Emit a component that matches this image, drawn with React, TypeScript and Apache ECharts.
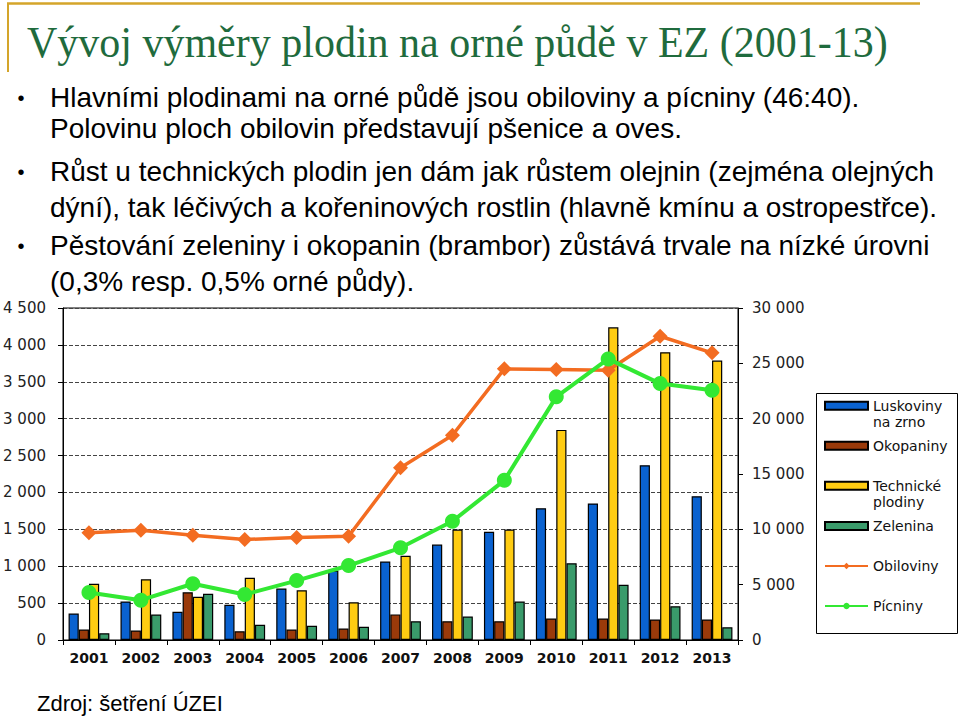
import React, { useEffect, useRef } from "react";
import * as echarts from "echarts";

const years = ["2001", "2002", "2003", "2004", "2005", "2006", "2007", "2008", "2009", "2010", "2011", "2012", "2013"];
const luskoviny = [359, 522, 382, 477, 698, 942, 1064, 1294, 1466, 1786, 1850, 2369, 1949];
const okopaniny = [142, 129, 648, 119, 142, 156, 347, 255, 255, 291, 291, 278, 278];
const technicke = [761, 824, 585, 843, 675, 512, 1141, 1497, 1497, 2848, 4238, 3900, 3787];
const zelenina = [92, 345, 626, 206, 192, 179, 255, 318, 522, 1041, 748, 458, 173];
const obiloviny = [9690, 9920, 9470, 9080, 9260, 9380, 15560, 18500, 24500, 24440, 24370, 27450, 25950];
const picniny = [4290, 3600, 5080, 4110, 5370, 6730, 8330, 10730, 14430, 21970, 25400, 23170, 22570];

const titleText = "Vývoj výměry plodin na orné půdě v EZ (2001-13)";
const bulletLines = [
  "Hlavními plodinami na orné půdě jsou obiloviny a pícniny (46:40).",
  "Polovinu ploch obilovin představují pšenice a oves.",
  "Růst u technických plodin jen dám jak růstem olejnin (zejména olejných",
  "dýní), tak léčivých a kořeninových rostlin (hlavně kmínu a ostropestřce).",
  "Pěstování zeleniny i okopanin (brambor) zůstává trvale na nízké úrovni",
  "(0,3% resp. 0,5% orné půdy).",
];
const sourceText = "Zdroj: šetření ÚZEI";

const seriesNames = ["Luskoviny na zrno", "Okopaniny", "Technické plodiny", "Zelenina", "Obiloviny", "Pícniny"];
const legendLabels = [" \nLuskoviny\nna zrno", "Okopaniny", " \nTechnické\nplodiny", "Zelenina", "Obiloviny", "Pícniny"];

const colors = {
  blue: "#0a62d0",
  brown: "#9a3a0a",
  yellow: "#ffcc12",
  green: "#3a9b6b",
  orange: "#f36c21",
  lime: "#33e833",
};

const fmt = (v: number) => String(v).replace(/\B(?=(\d{3})+(?!\d))/g, " ");

export default function App() {
  const ref = useRef<HTMLDivElement>(null);
  useEffect(() => {
    if (!ref.current) return;
    const chart = echarts.init(ref.current, undefined, { renderer: "svg" });

    const lineY = [97, 128, 171, 207, 245, 281];
    const bulletIdx = [0, 2, 4];
    const legendCenters = [405.7, 445.7, 485.7, 526, 566, 606];
    const twoLine = [true, false, true, false, false, false];
    const isBar = [true, true, true, true, false, false];

    const graphic: any[] = [
      { type: "line", shape: { x1: 7, y1: 3.5, x2: 920, y2: 3.5 }, style: { stroke: "#d4a52a", lineWidth: 2.5 } },
      { type: "line", shape: { x1: 8, y1: 3, x2: 8, y2: 72 }, style: { stroke: "#d4a52a", lineWidth: 2 } },
      {
        type: "text",
        x: 27,
        y: 42,
        scaleY: 1.07,
        style: { text: titleText, fontSize: 42, fontFamily: "Liberation Serif", fill: "#1f6b3d", align: "left", verticalAlign: "middle" },
      },
      {
        type: "text",
        x: 37,
        y: 703,
        style: { text: sourceText, fontSize: 22, fontFamily: "Liberation Sans", fill: "#000", align: "left", verticalAlign: "middle" },
      },
      {
        type: "rect",
        z: 0,
        shape: { x: 816.5, y: 393.5, width: 141, height: 240 },
        style: { fill: "#fff", stroke: "#000", lineWidth: 1 },
      },
    ];
    bulletLines.forEach((t, i) => {
      graphic.push({
        type: "text",
        x: 50,
        y: lineY[i],
        style: { text: t, fontSize: 28, fontFamily: "Liberation Sans", fill: "#000", align: "left", verticalAlign: "middle" },
      });
    });
    bulletIdx.forEach((i) => {
      graphic.push({
        type: "text",
        x: 21,
        y: lineY[i] + 1,
        style: { text: "•", fontSize: 20, fontFamily: "Liberation Sans", fill: "#000", align: "center", verticalAlign: "middle" },
      });
    });

    const legend = seriesNames.map((name, i) => ({
      left: 824,
      top: twoLine[i] ? legendCenters[i] - 24 : legendCenters[i] - 8,
      orient: "vertical",
      padding: 0,
      itemWidth: 43,
      itemHeight: 8,
      itemGap: 0,
      z: 5,
      selectedMode: false,
      icon: isBar[i] ? "rect" : undefined,
      data: [name],
      formatter: () => legendLabels[i],
      textStyle: { fontFamily: "DejaVu Sans", fontSize: 14, color: "#111", lineHeight: 16 },
    }));

    const barSeries = [luskoviny, okopaniny, technicke, zelenina].map((d, i) => ({
      name: seriesNames[i],
      type: "bar",
      data: d,
      barWidth: 10.2,
      barGap: "0%",
      itemStyle: {
        color: [colors.blue, colors.brown, colors.yellow, colors.green][i],
        borderColor: "#000",
        borderWidth: 1.2,
      },
    }));

    chart.setOption({
      animation: false,
      backgroundColor: "#fff",
      textStyle: { fontFamily: "DejaVu Sans" },
      graphic,
      legend,
      grid: { left: 63, right: 222, top: 308, bottom: 77, show: true, borderColor: "#000", borderWidth: 1 },
      xAxis: {
        type: "category",
        data: years,
        axisLine: { lineStyle: { color: "#000", width: 1 } },
        axisTick: { show: true, length: 5, lineStyle: { color: "#000" } },
        axisLabel: { fontFamily: "DejaVu Sans", fontWeight: "bold", fontSize: 14, color: "#111", margin: 11, interval: 0 },
      },
      yAxis: [
        {
          type: "value",
          min: 0,
          max: 4500,
          interval: 500,
          axisLine: { show: true, lineStyle: { color: "#000" } },
          axisTick: { show: true, length: 5, lineStyle: { color: "#000" } },
          axisLabel: { fontFamily: "DejaVu Sans", fontSize: 15, color: "#222", margin: 17, formatter: (v: number) => fmt(v) },
          splitLine: { show: true, lineStyle: { color: "#444", type: [4, 2], width: 1 } },
        },
        {
          type: "value",
          min: 0,
          max: 30000,
          interval: 5000,
          position: "right",
          axisLine: { show: true, lineStyle: { color: "#000" } },
          axisTick: { show: true, length: 5, lineStyle: { color: "#000" } },
          axisLabel: { fontFamily: "DejaVu Sans", fontSize: 15, color: "#222", margin: 14, formatter: (v: number) => fmt(v) },
          splitLine: { show: false },
        },
      ],
      series: [
        ...barSeries,
        {
          name: seriesNames[4],
          type: "line",
          yAxisIndex: 1,
          data: obiloviny,
          symbol: "diamond",
          symbolSize: 15,
          z: 5,
          lineStyle: { color: colors.orange, width: 3.5 },
          itemStyle: { color: colors.orange },
        },
        {
          name: seriesNames[5],
          type: "line",
          yAxisIndex: 1,
          data: picniny,
          symbol: "circle",
          symbolSize: 15,
          z: 6,
          lineStyle: { color: colors.lime, width: 4 },
          itemStyle: { color: colors.lime },
        },
      ],
    });
    return () => chart.dispose();
  }, []);

  return (
    <div
      ref={ref}
      style={{ position: "absolute", left: 0, top: 0, width: 960, height: 717, background: "#fff" }}
    />
  );
}
